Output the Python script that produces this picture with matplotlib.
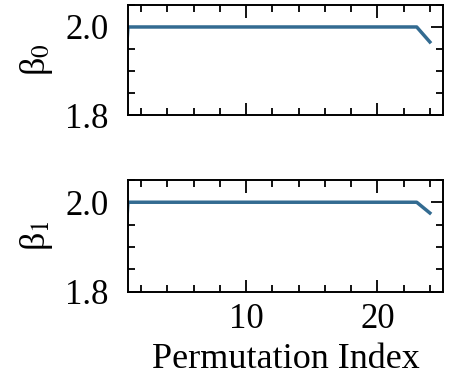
import matplotlib
matplotlib.use("Agg")
import matplotlib.pyplot as plt
from matplotlib.ticker import MultipleLocator, FormatStrFormatter

plt.rcParams["font.family"] = ["Liberation Serif", "DejaVu Serif"]
plt.rcParams["mathtext.fontset"] = "stix"

# Data (index 0 sits just left of the visible x range)
perm_index = list(range(0, 25))
beta0 = [1.5] + [2.0] * 23 + [1.966]
beta1 = [1.5] + [2.0] * 23 + [1.976]

line_color = "#336b91"

fig = plt.figure(figsize=(4.52, 3.81), dpi=100)
ax0 = fig.add_axes([0.283, 0.698, 0.697, 0.289])
ax1 = fig.add_axes([0.283, 0.234, 0.697, 0.294])

for ax, vals, label in [(ax0, beta0, "β$_0$"), (ax1, beta1, "β$_1$")]:
    ax.plot(perm_index, vals, color=line_color, linewidth=2.5)
    ax.set_xlim(1, 25)
    ax.set_ylim(1.8, 2.05)
    ax.yaxis.set_major_locator(MultipleLocator(0.2))
    ax.yaxis.set_minor_locator(MultipleLocator(0.05))
    ax.xaxis.set_major_locator(MultipleLocator(10))
    ax.xaxis.set_minor_locator(MultipleLocator(2))
    ax.yaxis.set_major_formatter(FormatStrFormatter("%.1f"))
    ax.tick_params(which="both", direction="in", top=True, right=True,
                   labelsize=25, width=1.3)
    ax.tick_params(which="major", length=9)
    ax.tick_params(which="minor", length=5)
    ax.tick_params(axis="y", which="major", pad=14)
    ax.tick_params(axis="x", which="major", pad=8)
    for s in ax.spines.values():
        s.set_linewidth(1.4)
    ax.set_ylabel(label, fontsize=26, labelpad=7)

ax0.tick_params(labelbottom=False)
ax1.set_xlabel("Permutation Index", fontsize=26, labelpad=5)

fig.savefig("out.png", dpi=100)
